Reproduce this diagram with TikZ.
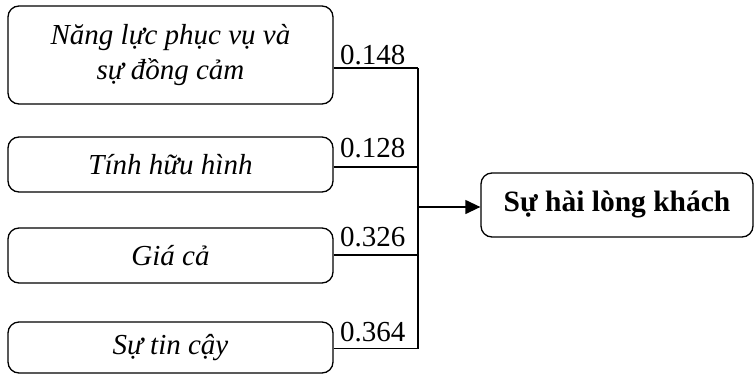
\documentclass[tikz,border=0pt]{standalone}
\usepackage{fontspec}
\setmainfont{Liberation Serif}
\usetikzlibrary{arrows.meta}
\begin{document}
\begin{tikzpicture}[x=1pt,y=-1pt,
  box/.style={draw,line width=1.3pt,rounded corners=11pt,minimum width=325pt,inner sep=0pt,font=\fontsize{29}{35}\selectfont\itshape,align=center},
  wlab/.style={anchor=south west,inner sep=0pt,font=\fontsize{29}{32}\selectfont},
  conn/.style={line width=1.3pt}]
\useasboundingbox (0,0) rectangle (754,375);
\node[box,minimum height=98pt] (b1) at (170.5,55) {Năng lực phục vụ và\\sự đồng cảm};
\node[box,minimum height=55pt] (b2) at (170.5,164.5) {Tính hữu hình};
\node[box,minimum height=55pt] (b3) at (170.5,255.5) {Giá cả};
\node[box,minimum height=51pt] (b4) at (170.5,347.5) {Sự tin cậy};
\node[box,minimum width=272pt,minimum height=64pt,font=\fontsize{29.5}{35}\selectfont\bfseries] (r) at (617,205) {Sự hài lòng khách};
\coordinate (c1) at (418,68);
\coordinate (c2) at (418,167);
\coordinate (c3) at (418,255);
\coordinate (c4) at (418,348.5);
\coordinate (j) at (418,207);
\draw[conn] (b1.east |- c1) -- (c1);
\draw[conn] (b2.east |- c2) -- (c2);
\draw[conn] (b3.east |- c3) -- (c3);
\draw[conn] (b4.east |- c4) -- (c4);
\draw[conn] (c1) -- (c4);
\draw[conn,-{Triangle[length=15pt,width=14pt]}] (j) -- (j -| r.west);
\node[wlab] (l1) at (340,65) {0.148};
\node[wlab] (l2) at (340,158) {0.128};
\node[wlab] (l3) at (340,247) {0.326};
\node[wlab] (l4) at (340,342) {0.364};
\end{tikzpicture}
\end{document}
